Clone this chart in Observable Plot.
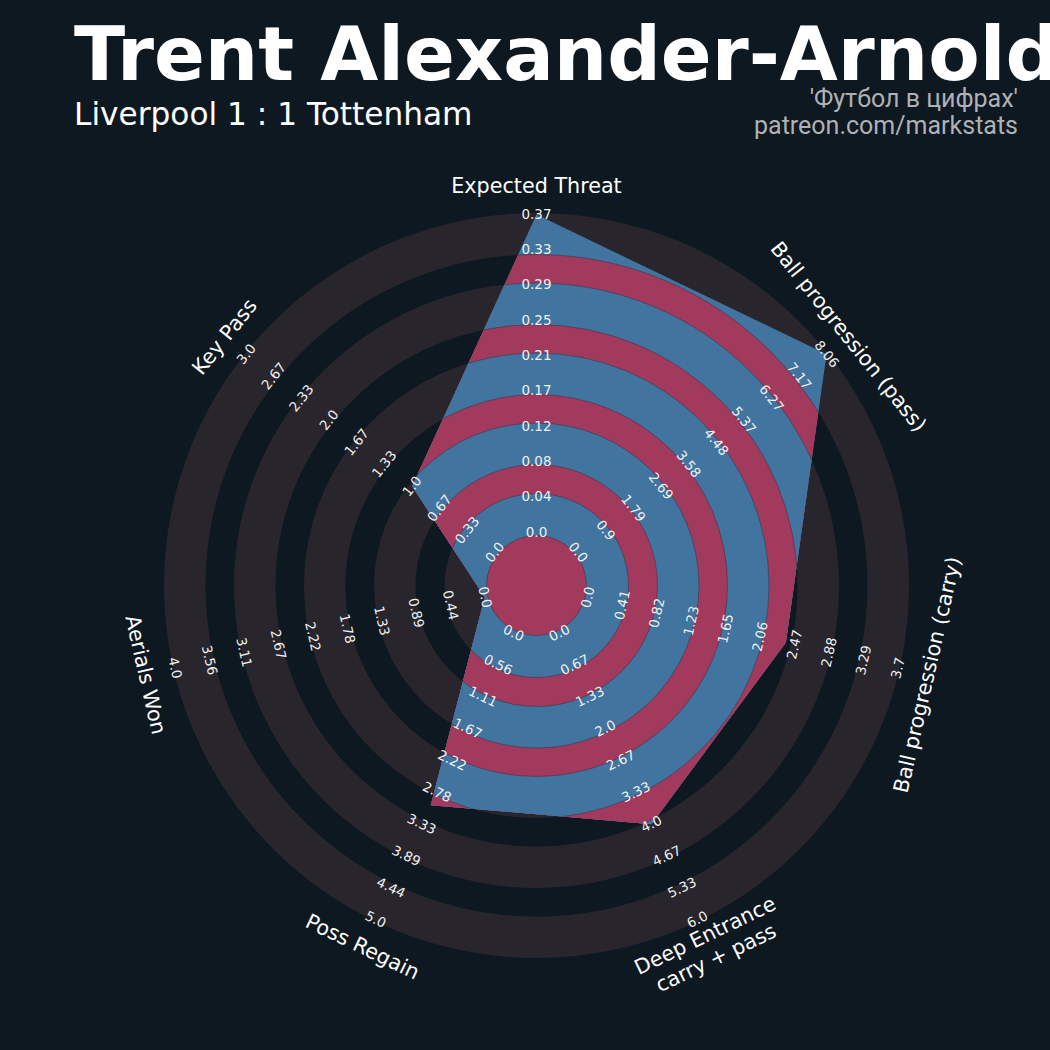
<!DOCTYPE html>
<html>
<head>
<meta charset="utf-8">
<script src="https://cdn.jsdelivr.net/npm/d3@7"></script>
<script src="https://cdn.jsdelivr.net/npm/@observablehq/plot@0.6"></script>
<style>
  html, body { margin: 0; padding: 0; background: #0e1820; }
  #wrap { position: relative; width: 1050px; height: 1050px; overflow: hidden; background: #0e1820; }
  #chart { position: absolute; left: 0; top: 0; }
  .hdr { position: absolute; white-space: nowrap; line-height: 1; }
  #title { left: 74px; top: 10px; font: bold 75px "DejaVu Sans"; color: #ffffff; }
  #subtitle { left: 74px; top: 96px; font: 31.2px "DejaVu Sans"; color: #ffffff; }
  #credit1, #credit2 { right: 32px; font: 25px Roboto; color: #aeb1b5; text-align: right; }
  #credit1 { top: 84px; }
  #credit2 { top: 111px; }
</style>
</head>
<body>
<div id="wrap">
  <div id="chart"></div>
  <div class="hdr" id="title">Trent Alexander-Arnold</div>
  <div class="hdr" id="subtitle">Liverpool 1 : 1 Tottenham</div>
  <div class="hdr" id="credit1">'Футбол в цифрах'</div>
  <div class="hdr" id="credit2">patreon.com/markstats</div>
</div>
<script>
// ---------------- data ----------------
const params = [
  "Expected Threat",
  "Ball progression (pass)",
  "Ball progression (carry)",
  "Deep Entrance\ncarry + pass",
  "Poss Regain",
  "Aerials Won",
  "Key Pass"
];
const minRange = [0, 0, 0, 0, 0, 0, 0];
const maxRange = [0.37, 8.06, 3.7, 6.0, 5.0, 4.0, 3.0];
const values = [0.37, 8.06, 2.36, 4.0, 3.0, 0.0, 1.0];

const ticksExpectedThreat = ["0.0","0.04","0.08","0.12","0.17","0.21","0.25","0.29","0.33","0.37"];
const ticksPass = ["0.0","0.9","1.79","2.69","3.58","4.48","5.37","6.27","7.17","8.06"];
const ticksCarry = ["0.0","0.41","0.82","1.23","1.65","2.06","2.47","2.88","3.29","3.7"];
const ticksDeep = ["0.0","0.67","1.33","2.0","2.67","3.33","4.0","4.67","5.33","6.0"];
const ticksRegain = ["0.0","0.56","1.11","1.67","2.22","2.78","3.33","3.89","4.44","5.0"];
const ticksAerials = ["0.0","0.44","0.89","1.33","1.78","2.22","2.67","3.11","3.56","4.0"];
const ticksKeyPass = ["0.0","0.33","0.67","1.0","1.33","1.67","2.0","2.33","2.67","3.0"];
const tickLabels = [ticksExpectedThreat, ticksPass, ticksCarry, ticksDeep, ticksRegain, ticksAerials, ticksKeyPass];

// ---------------- styling / geometry ----------------
const BG = "#0e1820", GRAY = "#28252c", BLUE = "#41749e", MAGENTA = "#a23a5e";
const W = 1050, H = 1050, CX = 536, CY = 585;
const R_IN = 53, R_OUT = 371, R_LABEL = 400;
const ringRadii = [372.5, 331, 302.5, 261, 232.5, 191, 162.5, 121, 92, 50];

const N = params.length;
const angle = i => (i * 2 * Math.PI) / N;
const toR = (i, v) => R_IN + (v - minRange[i]) / (maxRange[i] - minRange[i]) * (R_OUT - R_IN);
const rotFor = i => {
  const deg = (i * 360) / N;
  if (deg > 90 && deg < 270) return deg - 180;
  if (deg >= 270) return deg - 360;
  return deg;
};

const bgDisks = ringRadii.map((r, k) => ({r, fill: k % 2 === 0 ? GRAY : BG}));
const fgDisks = ringRadii.map((r, k) => ({r, fill: k % 2 === 0 ? BLUE : MAGENTA}));

const vertices = values.map((v, i) => ({param: params[i], value: v, r: toR(i, v), a: angle(i)}));

const ringLabelData = [];
tickLabels.forEach((labels, i) => {
  labels.forEach((t, k) => {
    const v = minRange[i] + (k / (labels.length - 1)) * (maxRange[i] - minRange[i]);
    ringLabelData.push({text: t, r: toR(i, v), a: angle(i), rot: rotFor(i)});
  });
});
const paramLabelData = params.map((p, i) => ({text: p, r: R_LABEL, a: angle(i), rot: rotFor(i)}));

const px = d => d.r * Math.sin(d.a);
const py = d => d.r * Math.cos(d.a);

const svg = Plot.plot({
  width: W,
  height: H,
  margin: 0,
  style: {background: "transparent", color: "white"},
  x: {domain: [-CX, W - CX], axis: null},
  y: {domain: [-(H - CY), CY], axis: null},
  r: {type: "linear", domain: [0, 1000], range: [0, 1000]},
  color: {type: "identity"},
  marks: [
    Plot.dot(bgDisks, {x: () => 0, y: () => 0, r: "r", fill: "fill"}),
    Plot.dot(fgDisks, {x: () => 0, y: () => 0, r: "r", fill: "fill", stroke: "#1a1f2a", strokeWidth: 0.7, strokeOpacity: 0.5}),
    Plot.line(vertices, {x: px, y: py, curve: "linear-closed", stroke: BLUE, strokeOpacity: 0, fill: "none"}),
    Plot.text(ringLabelData, {x: px, y: py, text: "text", rotate: "rot", fill: "#f0f0f0", fontSize: 13.5, fontFamily: "DejaVu Sans"}),
    Plot.text(paramLabelData, {x: px, y: py, text: "text", rotate: "rot", fill: "#ffffff", fontSize: 20.7, fontFamily: "DejaVu Sans", lineHeight: 1.2})
  ]
});

// clip the coloured rings (second dot mark) to the radar polygon (line mark)
const ns = "http://www.w3.org/2000/svg";
const dotGroups = svg.querySelectorAll('g[aria-label="dot"]');
const ringsGroup = dotGroups[1];
const shapePath = svg.querySelector('g[aria-label="line"] path');
if (shapePath && ringsGroup) {
  const defs = document.createElementNS(ns, "defs");
  const cp = document.createElementNS(ns, "clipPath");
  cp.setAttribute("id", "radarClip");
  const p = document.createElementNS(ns, "path");
  p.setAttribute("d", shapePath.getAttribute("d"));
  const gT = shapePath.parentNode.getAttribute("transform");
  const rT = ringsGroup.getAttribute("transform");
  if (gT && gT !== rT) p.setAttribute("transform", gT);
  cp.appendChild(p);
  defs.appendChild(cp);
  svg.insertBefore(defs, svg.firstChild);
  ringsGroup.setAttribute("clip-path", "url(#radarClip)");
}
document.getElementById("chart").appendChild(svg);
</script>
</body>
</html>
